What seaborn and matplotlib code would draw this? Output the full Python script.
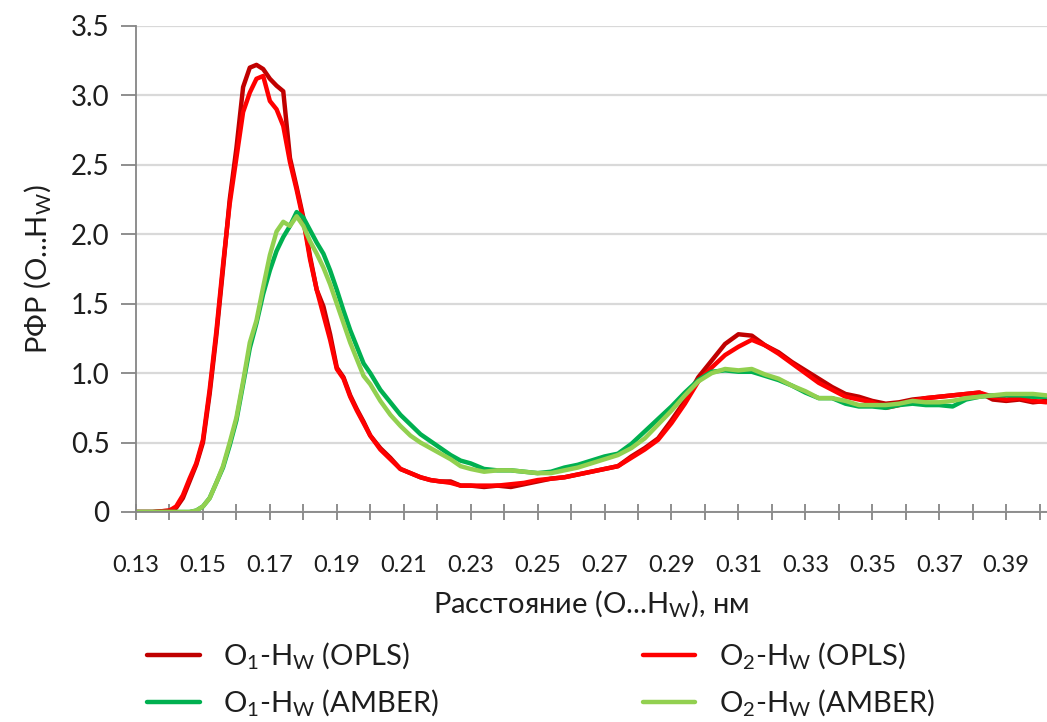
import numpy as np
import pandas as pd
import matplotlib
matplotlib.use("Agg")
import matplotlib.pyplot as plt
import seaborn as sns
from matplotlib.ticker import MultipleLocator, FixedLocator, FuncFormatter

# ---------------- data ----------------
distance_nm = [0.130, 0.135, 0.140, 0.142, 0.144, 0.146, 0.148, 0.150, 0.152, 0.154,
               0.156, 0.158, 0.160, 0.162, 0.164, 0.166, 0.168, 0.170, 0.172, 0.174,
               0.176, 0.178, 0.180, 0.182, 0.184, 0.186, 0.188, 0.190, 0.192, 0.194,
               0.196, 0.198, 0.200, 0.203, 0.206, 0.209, 0.212, 0.215, 0.218, 0.221,
               0.224, 0.227, 0.230, 0.234, 0.238, 0.242, 0.246, 0.250, 0.254, 0.258,
               0.262, 0.266, 0.270, 0.274, 0.278, 0.282, 0.286, 0.290, 0.294, 0.298,
               0.302, 0.306, 0.310, 0.314, 0.318, 0.322, 0.326, 0.330, 0.334, 0.338,
               0.342, 0.346, 0.350, 0.354, 0.358, 0.362, 0.366, 0.370, 0.374, 0.378,
               0.382, 0.386, 0.390, 0.394, 0.398, 0.402]

o1_opls = [0.00, 0.00, 0.01, 0.03, 0.10, 0.22, 0.34, 0.50, 0.85, 1.27,
           1.75, 2.25, 2.62, 3.06, 3.20, 3.22, 3.19, 3.12, 3.07, 3.03,
           2.55, 2.34, 2.12, 1.84, 1.60, 1.48, 1.28, 1.04, 0.97, 0.84,
           0.74, 0.65, 0.55, 0.46, 0.39, 0.31, 0.28, 0.25, 0.23, 0.22,
           0.22, 0.19, 0.19, 0.18, 0.19, 0.18, 0.20, 0.22, 0.24, 0.25,
           0.27, 0.29, 0.31, 0.33, 0.40, 0.46, 0.53, 0.66, 0.80, 0.97,
           1.09, 1.21, 1.28, 1.27, 1.20, 1.15, 1.08, 1.02, 0.96, 0.90,
           0.85, 0.83, 0.80, 0.78, 0.79, 0.81, 0.82, 0.83, 0.84, 0.85,
           0.86, 0.81, 0.80, 0.81, 0.79, 0.80]

o2_opls = [0.00, 0.00, 0.01, 0.04, 0.12, 0.24, 0.35, 0.52, 0.88, 1.30,
           1.78, 2.22, 2.55, 2.88, 3.02, 3.12, 3.14, 2.96, 2.90, 2.78,
           2.52, 2.32, 2.10, 1.82, 1.60, 1.42, 1.24, 1.03, 0.96, 0.83,
           0.73, 0.64, 0.55, 0.45, 0.38, 0.31, 0.28, 0.25, 0.23, 0.22,
           0.21, 0.19, 0.19, 0.19, 0.19, 0.20, 0.21, 0.23, 0.24, 0.25,
           0.27, 0.29, 0.31, 0.33, 0.39, 0.45, 0.52, 0.64, 0.78, 0.94,
           1.04, 1.13, 1.19, 1.24, 1.20, 1.14, 1.07, 1.00, 0.93, 0.88,
           0.83, 0.81, 0.79, 0.75, 0.77, 0.80, 0.82, 0.83, 0.84, 0.85,
           0.86, 0.83, 0.81, 0.82, 0.80, 0.79]

o1_amber = [0.00, 0.00, 0.00, 0.00, 0.00, 0.00, 0.01, 0.04, 0.10, 0.21,
            0.32, 0.48, 0.66, 0.92, 1.18, 1.36, 1.57, 1.74, 1.88, 1.98,
            2.06, 2.16, 2.12, 2.03, 1.94, 1.86, 1.74, 1.60, 1.45, 1.31,
            1.19, 1.07, 1.00, 0.88, 0.79, 0.70, 0.63, 0.56, 0.51, 0.46,
            0.41, 0.37, 0.35, 0.31, 0.30, 0.30, 0.29, 0.28, 0.29, 0.32,
            0.34, 0.37, 0.40, 0.42, 0.49, 0.58, 0.67, 0.76, 0.86, 0.95,
            1.01, 1.02, 1.01, 1.01, 0.98, 0.95, 0.91, 0.86, 0.82, 0.82,
            0.78, 0.76, 0.76, 0.75, 0.77, 0.78, 0.77, 0.77, 0.76, 0.81,
            0.83, 0.84, 0.84, 0.84, 0.83, 0.83]

o2_amber = [0.00, 0.00, 0.00, 0.00, 0.00, 0.00, 0.01, 0.04, 0.10, 0.21,
            0.33, 0.50, 0.68, 0.94, 1.22, 1.38, 1.62, 1.85, 2.02, 2.09,
            2.06, 2.13, 2.06, 1.95, 1.86, 1.76, 1.64, 1.50, 1.36, 1.22,
            1.10, 0.98, 0.92, 0.80, 0.70, 0.62, 0.55, 0.50, 0.46, 0.42,
            0.38, 0.33, 0.31, 0.29, 0.30, 0.30, 0.29, 0.28, 0.28, 0.30,
            0.32, 0.35, 0.38, 0.41, 0.46, 0.53, 0.63, 0.73, 0.84, 0.94,
            1.00, 1.03, 1.02, 1.03, 0.99, 0.96, 0.91, 0.87, 0.82, 0.82,
            0.80, 0.77, 0.77, 0.77, 0.78, 0.80, 0.79, 0.79, 0.80, 0.82,
            0.83, 0.84, 0.85, 0.85, 0.85, 0.84]

series_labels = [r"O$_\mathregular{1}$-H$_\mathregular{W}$ (OPLS)",
                 r"O$_\mathregular{2}$-H$_\mathregular{W}$ (OPLS)",
                 r"O$_\mathregular{1}$-H$_\mathregular{W}$ (AMBER)",
                 r"O$_\mathregular{2}$-H$_\mathregular{W}$ (AMBER)"]
series_values = [o1_opls, o2_opls, o1_amber, o2_amber]
series_colors = ["#C00000", "#FF0000", "#00B050", "#92D050"]

x_tick_labels = ["0.13", "0.15", "0.17", "0.19", "0.21", "0.23", "0.25",
                 "0.27", "0.29", "0.31", "0.33", "0.35", "0.37", "0.39"]

# ---------------- plot ----------------
sns.set_theme(style="white")
plt.rcParams["font.family"] = ["Lato", "Open Sans", "DejaVu Sans"]
plt.rcParams["mathtext.fontset"] = "custom"
plt.rcParams["mathtext.rm"] = "Lato"

TXT = "#1e1e1e"
W, H = 1047, 722
fig = plt.figure(figsize=(W / 100, H / 100), dpi=100)
ax = fig.add_axes([136 / W, 1 - 512 / H, (1047 - 136) / W, (512 - 26) / H])

handles = {}
for lab, vals, col in zip(series_labels, series_values, series_colors):
    df = pd.DataFrame({"x": distance_nm, "y": vals})
    sns.lineplot(data=df, x="x", y="y", ax=ax, color=col, linewidth=3.2,
                 sort=False, label=lab, legend=False)
    handles[lab] = ax.lines[-1]

ax.set_xlim(0.13, 0.4022)
ax.set_ylim(0, 3.5)

# y axis
ax.yaxis.set_major_locator(MultipleLocator(0.5))
ax.yaxis.set_major_formatter(FuncFormatter(lambda v, p: "0" if abs(v) < 1e-9 else f"{v:.1f}"))
ax.grid(axis="y", color="#D9D9D9", linewidth=1.6)
ax.grid(axis="x", visible=False)
ax.set_axisbelow(True)

# x axis
major = [float(s) for s in x_tick_labels]
ax.xaxis.set_major_locator(FixedLocator(major))
ax.set_xticklabels(x_tick_labels)
ax.xaxis.set_minor_locator(FixedLocator([m + 0.01 for m in major]))

for s in ["top", "right"]:
    ax.spines[s].set_visible(False)
for s in ["left", "bottom"]:
    ax.spines[s].set_color("#868686")
    ax.spines[s].set_linewidth(1.3)

ax.tick_params(axis="y", which="major", direction="out", length=11, width=1.3,
               color="#868686", labelsize=20, labelcolor=TXT, pad=8, left=True)
ax.tick_params(axis="x", which="both", direction="inout", length=12, width=1.3,
               color="#868686", bottom=True)
ax.tick_params(axis="x", which="major", labelsize=17, labelcolor=TXT, pad=25)

ax.set_xlabel(r"Расстояние (O...H$_\mathregular{W}$), нм", fontsize=21,
              color=TXT, labelpad=9)
ax.set_ylabel(r"РФР (O...H$_\mathregular{W}$)", fontsize=21, color=TXT,
              labelpad=12)

order = [series_labels[0], series_labels[2], series_labels[1], series_labels[3]]
leg = fig.legend([handles[l] for l in order], order, ncol=2, loc="upper left",
                 bbox_to_anchor=(147 / W, 1 - 640 / H), frameon=False,
                 borderpad=0, borderaxespad=0,
                 fontsize=21, handlelength=1.8, handletextpad=0.8,
                 columnspacing=7.0, labelspacing=0.55)
for t in leg.get_texts():
    t.set_color(TXT)

fig.savefig("out.png", dpi=100, facecolor="white")
